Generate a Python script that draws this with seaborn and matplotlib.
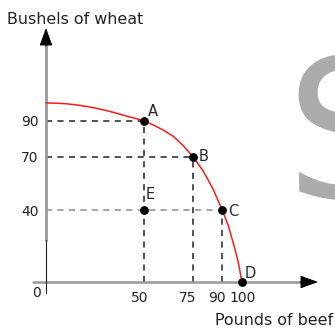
import numpy as np
import pandas as pd
import matplotlib
matplotlib.use("Agg")
import matplotlib.pyplot as plt
import matplotlib.transforms as mtransforms
import seaborn as sns

# -------------------------------------------------------------------------
# Data
# -------------------------------------------------------------------------
# production possibilities frontier
ppf_beef = [0, 5, 10, 15, 20, 25, 30, 35, 40, 45, 50, 55, 60, 65, 70, 75,
            80, 85, 90, 93, 96, 98, 100]
ppf_wheat = [100, 99.9, 99.6, 99, 98.2, 97.2, 96, 94.6, 93, 91.6, 90, 87.6,
             84.8, 81.3, 76.2, 70, 62.3, 52.5, 40, 31.5, 20, 11.5, 0]

# labelled points
point_names = ["A", "B", "C", "D", "E"]
point_beef = [50, 75, 90, 100, 50]
point_wheat = [90, 70, 40, 0, 40]

x_ticks = [50, 75, 90, 100]
y_ticks = [40, 70, 90]

# -------------------------------------------------------------------------
# Layout (pixels of a 335x333 canvas)
# -------------------------------------------------------------------------
W, H, DPI = 335, 333, 100
AX_L, AX_R, AX_T, AX_B = 43, 318, 28, 285
X0, XS = 46, 1.96      # pixel of beef=0, pixels per unit
Y0, YS = 282, 1.79     # pixel of wheat=0, pixels per unit


def px_x(p):
    return (p - X0) / XS


def px_y(p):
    return (Y0 - p) / YS


sns.set_style("white")
plt.rcParams["font.family"] = ["DejaVu Sans"]

fig = plt.figure(figsize=(W / DPI, H / DPI), dpi=DPI)
ax = fig.add_axes([AX_L / W, (H - AX_B) / H, (AX_R - AX_L) / W, (AX_B - AX_T) / H])
ax.set_xlim(px_x(AX_L), px_x(AX_R))
ax.set_ylim(px_y(AX_B), px_y(AX_T))
for s in ax.spines.values():
    s.set_visible(False)

# watermark letter
fig.text(285 / W, (H - 197) / H, "S", fontsize=138, color="#ababab",
         ha="left", va="baseline", zorder=0)

# axes with arrows
ax.plot([px_x(33), px_x(304)], [0, 0], color="#999999", lw=1.8,
        clip_on=False, zorder=2)
ax.plot([0, 0], [px_y(240), px_y(40)], color="#999999", lw=2.0,
        clip_on=False, zorder=2)
ax.plot([0, 0], [px_y(293), px_y(240)], color="#222222", lw=0.8,
        clip_on=False, zorder=2)
arrow = dict(arrowstyle="-|>,head_length=0.55,head_width=0.2",
             color="black", lw=0.8, mutation_scale=20, shrinkA=0, shrinkB=0)
ax.annotate("", xy=(px_x(318), 0), xytext=(px_x(300), 0),
            arrowprops=arrow, annotation_clip=False)
ax.annotate("", xy=(0, px_y(28)), xytext=(0, px_y(46)),
            arrowprops=arrow, annotation_clip=False)

# dashed guide lines
dash = (0, (4, 3.5))
pts = pd.DataFrame({"name": point_names, "beef": point_beef, "wheat": point_wheat})
for name, b, w in zip(point_names, point_beef, point_wheat):
    if name in ("D", "E"):
        continue
    hcol = "#8c8c8c" if name == "C" else "#222222"
    ax.plot([0, b], [w, w], color=hcol, lw=1.1, ls=dash, zorder=1)
    ax.plot([b, b], [0, w], color="#222222", lw=1.1, ls=dash, zorder=1)

# frontier
sns.lineplot(x=ppf_beef, y=ppf_wheat, color="#ff1a1a", lw=1.1, ax=ax,
             sort=False, estimator=None, zorder=3)

# points
sns.scatterplot(data=pts, x="beef", y="wheat", color="black", s=40,
                edgecolor="black", linewidth=0, ax=ax, zorder=4, clip_on=False)

offsets = {"A": (4, 2, "bottom"), "B": (6, 0, "center"), "C": (6, -1, "center"),
           "D": (3, 1, "bottom"), "E": (2, 8, "bottom")}
for name, b, w in zip(point_names, point_beef, point_wheat):
    dx, dy, va = offsets[name]
    ax.annotate(name, (b, w), xytext=(dx, dy), textcoords="offset pixels",
                ha="left", va=va, fontsize=10.5, annotation_clip=False)

# ticks
ax.set_xticks(x_ticks)
ax.set_xticklabels([str(t) for t in x_ticks])
ax.set_yticks(y_ticks)
ax.set_yticklabels([str(t) for t in y_ticks])
ax.tick_params(axis="both", length=0, labelsize=10, colors="#222222")
ax.tick_params(axis="x", pad=4)
ax.tick_params(axis="y", pad=3)
ax.set_xlabel("")
ax.set_ylabel("")

# labels in the source sit a little left of their guide lines
shift_px = [-4, -5, -5, 1]
for lab, dx in zip(ax.get_xticklabels(), shift_px):
    off = mtransforms.ScaledTranslation(dx / DPI, 0, fig.dpi_scale_trans)
    lab.set_transform(lab.get_transform() + off)

ax.text(px_x(41), px_y(293), "0", ha="right", va="center", fontsize=10,
        color="#222222", clip_on=False)

# axis titles
fig.text(7 / W, (H - 24) / H, "Bushels of wheat", fontsize=11.4,
         ha="left", va="baseline", color="#222222")
fig.text(215 / W, (H - 325) / H, "Pounds of beef", fontsize=11.4,
         ha="left", va="baseline", color="#222222")

fig.savefig("out.png", dpi=DPI)
